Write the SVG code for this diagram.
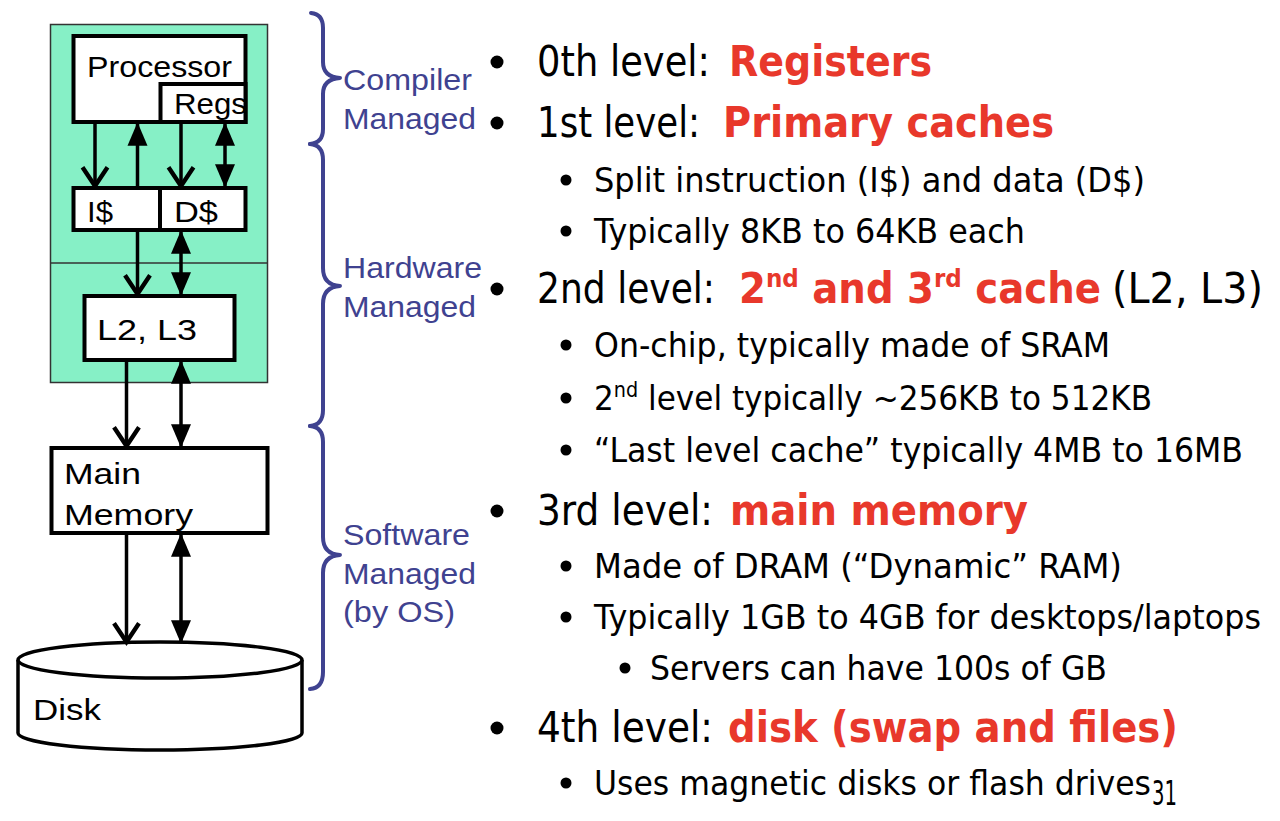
<svg xmlns="http://www.w3.org/2000/svg" width="1280" height="821" viewBox="0 0 1280 821">
<defs>
<style>
.box{fill:#fff;stroke:#000;stroke-width:4}
.lbl{font-family:"Liberation Sans",Arial,sans-serif;font-size:30px;fill:#000}
.mg{font-family:"Liberation Sans",Arial,sans-serif;font-size:29px;fill:#3F4290}
.brace{fill:none;stroke:#3F4290;stroke-width:4;stroke-linecap:round;stroke-linejoin:round}
.con{stroke:#000;stroke-width:3.5;fill:none}
.t1{font-family:"DejaVu Sans",Verdana,sans-serif;font-size:42px;fill:#000}
.t2{font-family:"DejaVu Sans",Verdana,sans-serif;font-size:34px;fill:#000}
.red{fill:#E8382B;font-weight:bold}
.dot{fill:#000}
</style>
<marker id="open" markerUnits="userSpaceOnUse" markerWidth="30" markerHeight="30" viewBox="-2 -12 20 24" refX="15" refY="0" orient="auto-start-reverse" overflow="visible">
<path d="M0,-10 L15,0 L0,10" fill="none" stroke="#000" stroke-width="3.5"/>
</marker>
<marker id="tri" markerUnits="userSpaceOnUse" markerWidth="30" markerHeight="30" viewBox="-2 -8 18 16" refX="13" refY="0" orient="auto-start-reverse" overflow="visible">
<path d="M0,-6 L14,0 L0,6 Z" fill="#000"/>
</marker>
</defs>
<rect width="1280" height="821" fill="#fff"/>

<g id="chip">
<rect x="50.5" y="24.5" width="217" height="358" fill="#86F0C6" stroke="#333" stroke-width="1.5"/>
<line x1="50.5" y1="263" x2="267.5" y2="263" stroke="#333" stroke-width="1.5"/>
</g>
<g id="processor">
<rect class="box" x="73.5" y="36" width="172" height="86"/>
<text class="lbl" x="87" y="77" textLength="145" lengthAdjust="spacingAndGlyphs">Processor</text>
</g>
<g id="regs">
<rect class="box" x="160.5" y="84" width="85" height="38" stroke-width="3"/>
<text class="lbl" x="174" y="114" textLength="73" lengthAdjust="spacingAndGlyphs">Regs</text>
</g>
<g id="icache">
<rect class="box" x="73.5" y="188" width="86.5" height="42"/>
<text class="lbl" x="87" y="222" textLength="26" lengthAdjust="spacingAndGlyphs">I$</text>
</g>
<g id="dcache">
<rect class="box" x="160" y="188" width="85.5" height="42"/>
<text class="lbl" x="174" y="222" textLength="44" lengthAdjust="spacingAndGlyphs">D$</text>
</g>
<g id="l2l3">
<rect class="box" x="84.5" y="296" width="150" height="64"/>
<text class="lbl" x="97" y="340" textLength="100" lengthAdjust="spacingAndGlyphs">L2, L3</text>
</g>
<g id="mainmem">
<rect class="box" x="51.5" y="448" width="216" height="85"/>
<text class="lbl" x="64" y="484" textLength="77" lengthAdjust="spacingAndGlyphs">Main</text>
<text class="lbl" x="64" y="525" textLength="129" lengthAdjust="spacingAndGlyphs">Memory</text>
</g>
<g id="disk">
<path d="M18,660 L18,733 A142,17 0 0 0 302,733 L302,660" fill="#fff" stroke="#000" stroke-width="3.5"/>
<ellipse cx="160" cy="660" rx="142" ry="18" fill="#fff" stroke="#000" stroke-width="3.5"/>
<text class="lbl" x="33" y="720" textLength="68" lengthAdjust="spacingAndGlyphs">Disk</text>
</g>

<g id="connectors">
<line class="con" x1="95" y1="124" x2="95" y2="186" marker-end="url(#open)"/>
<line class="con" x1="137.5" y1="186" x2="137.5" y2="124" marker-end="url(#tri)"/>
<line class="con" x1="181" y1="124" x2="181" y2="186" marker-end="url(#open)"/>
<line class="con" x1="225" y1="124" x2="225" y2="186" marker-start="url(#tri)" marker-end="url(#tri)"/>
<line class="con" x1="137.5" y1="232" x2="137.5" y2="294" marker-end="url(#open)"/>
<line class="con" x1="181" y1="232" x2="181" y2="294" marker-start="url(#tri)" marker-end="url(#tri)"/>
<line class="con" x1="126.5" y1="362" x2="126.5" y2="446" marker-end="url(#open)"/>
<line class="con" x1="181" y1="362" x2="181" y2="446" marker-start="url(#tri)" marker-end="url(#tri)"/>
<line class="con" x1="126.5" y1="535" x2="126.5" y2="642" marker-end="url(#open)"/>
<line class="con" x1="181" y1="535" x2="181" y2="642" marker-start="url(#tri)" marker-end="url(#tri)"/>
</g>

<g id="braces">
<path class="brace" d="M311,13 Q323,14 323,28 L323,62 Q323,77 340,78 Q323,79 323,94 L323,129 Q323,143 310,144"/>
<path class="brace" d="M310,144 Q323,145 323,160 L323,268 Q323,285 340,286 Q323,287 323,304 L323,410 Q323,425 310,426"/>
<path class="brace" d="M310,426 Q323,427 323,442 L323,537 Q323,554 340,555 Q323,556 323,573 L323,672 Q323,688 310,689"/>
<text class="mg" x="343" y="90" textLength="129" lengthAdjust="spacingAndGlyphs">Compiler</text>
<text class="mg" x="343" y="129" textLength="133" lengthAdjust="spacingAndGlyphs">Managed</text>
<text class="mg" x="343" y="278" textLength="139" lengthAdjust="spacingAndGlyphs">Hardware</text>
<text class="mg" x="343" y="317" textLength="133" lengthAdjust="spacingAndGlyphs">Managed</text>
<text class="mg" x="343" y="545" textLength="127" lengthAdjust="spacingAndGlyphs">Software</text>
<text class="mg" x="343" y="584" textLength="133" lengthAdjust="spacingAndGlyphs">Managed</text>
<text class="mg" x="343" y="622" textLength="112" lengthAdjust="spacingAndGlyphs">(by OS)</text>
</g>

<g id="levels">
<circle class="dot" cx="497" cy="62" r="6.5"/>
<text class="t1" x="537" y="76" textLength="173" lengthAdjust="spacingAndGlyphs">0th level:</text>
<text class="t1 red" x="729" y="76" textLength="203" lengthAdjust="spacingAndGlyphs">Registers</text>

<circle class="dot" cx="497" cy="123" r="6.5"/>
<text class="t1" x="537" y="137" textLength="163" lengthAdjust="spacingAndGlyphs">1st level:</text>
<text class="t1 red" x="723" y="137" textLength="331" lengthAdjust="spacingAndGlyphs">Primary caches</text>

<circle class="dot" cx="566" cy="180" r="5.5"/>
<text class="t2" x="594" y="192" textLength="551" lengthAdjust="spacingAndGlyphs">Split instruction (I$) and data (D$)</text>
<circle class="dot" cx="566" cy="231" r="5.5"/>
<text class="t2" x="594" y="243" textLength="431" lengthAdjust="spacingAndGlyphs">Typically 8KB to 64KB each</text>

<circle class="dot" cx="497" cy="289" r="6.5"/>
<text class="t1" x="537" y="303" textLength="178" lengthAdjust="spacingAndGlyphs">2nd level:</text>
<text class="t1 red" x="739" y="303" textLength="362" lengthAdjust="spacingAndGlyphs">2<tspan font-size="25" dy="-16">nd</tspan><tspan dy="16"> and 3</tspan><tspan font-size="25" dy="-16">rd</tspan><tspan dy="16"> cache</tspan></text>
<text class="t1" x="1112" y="303" textLength="151" lengthAdjust="spacingAndGlyphs">(L2, L3)</text>

<circle class="dot" cx="566" cy="345" r="5.5"/>
<text class="t2" x="594" y="357" textLength="516" lengthAdjust="spacingAndGlyphs">On-chip, typically made of SRAM</text>
<circle class="dot" cx="566" cy="398" r="5.5"/>
<text class="t2" x="594" y="410" textLength="558" lengthAdjust="spacingAndGlyphs">2<tspan font-size="21" dy="-13">nd</tspan><tspan dy="13"> level typically ~256KB to 512KB</tspan></text>
<circle class="dot" cx="566" cy="450" r="5.5"/>
<text class="t2" x="594" y="462" textLength="649" lengthAdjust="spacingAndGlyphs">“Last level cache” typically 4MB to 16MB</text>

<circle class="dot" cx="497" cy="511" r="6.5"/>
<text class="t1" x="537" y="525" textLength="176" lengthAdjust="spacingAndGlyphs">3rd level:</text>
<text class="t1 red" x="730" y="525" textLength="298" lengthAdjust="spacingAndGlyphs">main memory</text>

<circle class="dot" cx="566" cy="566" r="5.5"/>
<text class="t2" x="594" y="578" textLength="528" lengthAdjust="spacingAndGlyphs">Made of DRAM (“Dynamic” RAM)</text>
<circle class="dot" cx="566" cy="617" r="5.5"/>
<text class="t2" x="594" y="629" textLength="667" lengthAdjust="spacingAndGlyphs">Typically 1GB to 4GB for desktops/laptops</text>
<circle class="dot" cx="625" cy="668" r="5.5"/>
<text class="t2" x="650" y="680" textLength="457" lengthAdjust="spacingAndGlyphs">Servers can have 100s of GB</text>

<circle class="dot" cx="497" cy="728" r="6.5"/>
<text class="t1" x="537" y="742" textLength="176" lengthAdjust="spacingAndGlyphs">4th level:</text>
<text class="t1 red" x="728" y="742" textLength="450" lengthAdjust="spacingAndGlyphs">disk (swap and files)</text>

<circle class="dot" cx="566" cy="783" r="5.5"/>
<text class="t2" x="594" y="795" textLength="557" lengthAdjust="spacingAndGlyphs">Uses magnetic disks or flash drives</text>
<text class="t2" x="1152" y="805" font-size="24" textLength="25" lengthAdjust="spacingAndGlyphs">31</text>
</g>
</svg>
